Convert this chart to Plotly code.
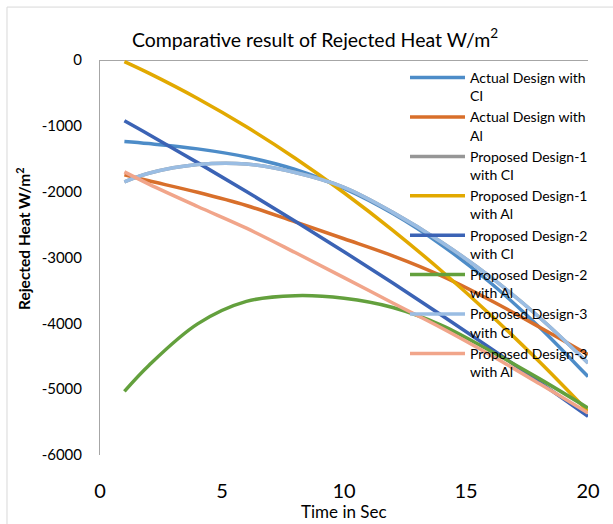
import plotly.graph_objects as go

# Time axis (s)
time_s = [1, 2, 4, 6, 8, 10, 12, 14, 16, 18, 20]

# Rejected heat (W/m2) for each design / material combination
actual_ci = [-1238, -1270, -1350, -1473, -1663, -1950, -2332, -2810, -3384, -4054, -4810]
actual_al = [-1745, -1835, -2010, -2210, -2460, -2715, -2975, -3280, -3650, -4055, -4475]
pd1_ci = [-1850, -1720, -1588, -1580, -1710, -1935, -2315, -2768, -3295, -3908, -4602]
pd1_al = [-25, -200, -585, -1015, -1492, -2016, -2587, -3205, -3869, -4580, -5338]
pd2_ci = [-924, -1132, -1559, -1997, -2448, -2912, -3387, -3876, -4376, -4889, -5414]
pd2_al = [-5033, -4639, -4008, -3667, -3580, -3620, -3760, -4030, -4420, -4840, -5286]
pd3_ci = [-1850, -1720, -1588, -1580, -1710, -1935, -2315, -2768, -3295, -3908, -4602]
pd3_al = [-1700, -1885, -2225, -2555, -2925, -3305, -3690, -4070, -4480, -4915, -5362]

series_names = [
    "Actual Design with<br>CI",
    "Actual Design with<br>Al",
    "Proposed Design-1<br>with CI",
    "Proposed Design-1<br>with Al",
    "Proposed Design-2<br>with CI",
    "Proposed Design-2<br>with Al",
    "Proposed Design-3<br>with CI",
    "Proposed Design-3<br>with Al",
]
series_values = [actual_ci, actual_al, pd1_ci, pd1_al, pd2_ci, pd2_al, pd3_ci, pd3_al]
series_colors = ["#4D8CC8", "#D86F2B", "#969696", "#E2A900",
                 "#3B63B5", "#63A03D", "#9ABDE3", "#F1A58A"]

# Axis ticks
x_ticks = [0, 5, 10, 15, 20]
y_ticks = [0, -1000, -2000, -3000, -4000, -5000, -6000]
y_tick_labels = ["0", "-1000", "-2000", "-3000", "-4000", "-5000", "-6000"]

FONT = "Lato, Carlito, Calibri, sans-serif"

fig = go.Figure()
for name, vals, col in zip(series_names, series_values, series_colors):
    fig.add_trace(go.Scatter(
        x=time_s, y=vals, name=name, mode="lines",
        line=dict(color=col, width=3.5, shape="spline", smoothing=1.0),
    ))

axis_gray = "#A6A6A6"
frame_gray = "#D9D9D9"

fig.update_layout(
    width=613, height=524,
    margin=dict(l=100, r=25, t=60, b=69),
    paper_bgcolor="white", plot_bgcolor="white",
    font=dict(family=FONT, color="#000000"),
    title=dict(
        text="Comparative result of Rejected Heat W/m<sup>2</sup>",
        x=0.514, xanchor="center", y=0.924, yanchor="middle",
        font=dict(size=19.5, family=FONT, color="#000000"),
    ),
    xaxis=dict(
        range=[0, 20], tickvals=x_ticks,
        showgrid=False, zeroline=False, showline=False, ticks="",
        tickfont=dict(size=20, family=FONT), ticklabelstandoff=22,
    ),
    yaxis=dict(
        range=[-6000, 0], tickvals=y_ticks, ticktext=y_tick_labels,
        showgrid=False, ticks="",
        showline=True, linecolor=axis_gray, linewidth=1,
        zeroline=True, zerolinecolor=axis_gray, zerolinewidth=1,
        tickfont=dict(size=15, family=FONT), ticklabelstandoff=14,
    ),
    legend=dict(
        x=0.625, xanchor="left", y=0.995, yanchor="top",
        valign="top", bgcolor="rgba(0,0,0,0)", borderwidth=0,
        font=dict(size=14, family=FONT), tracegroupgap=0, itemwidth=55,
    ),
    annotations=[
        dict(text="Time in Sec", xref="paper", yref="paper",
             x=0.5, y=-0.142, xanchor="center", yanchor="middle",
             showarrow=False, font=dict(size=17, family=FONT)),
        dict(text="<b>Rejected Heat W/m<sup>2</sup></b>", xref="paper", yref="paper",
             x=-0.158, y=0.549, xanchor="center", yanchor="middle", textangle=-90,
             showarrow=False, font=dict(size=15.5, family=FONT)),
    ],
    shapes=[
        dict(type="line", xref="paper", yref="paper", x0=-0.1906, x1=-0.1906,
             y0=-0.2, y1=1.134, line=dict(color=frame_gray, width=1)),
        dict(type="line", xref="paper", yref="paper", x0=-0.1906, x1=1.1,
             y0=1.134, y1=1.134, line=dict(color=frame_gray, width=1)),
    ],
)

fig.write_html("out.html")
